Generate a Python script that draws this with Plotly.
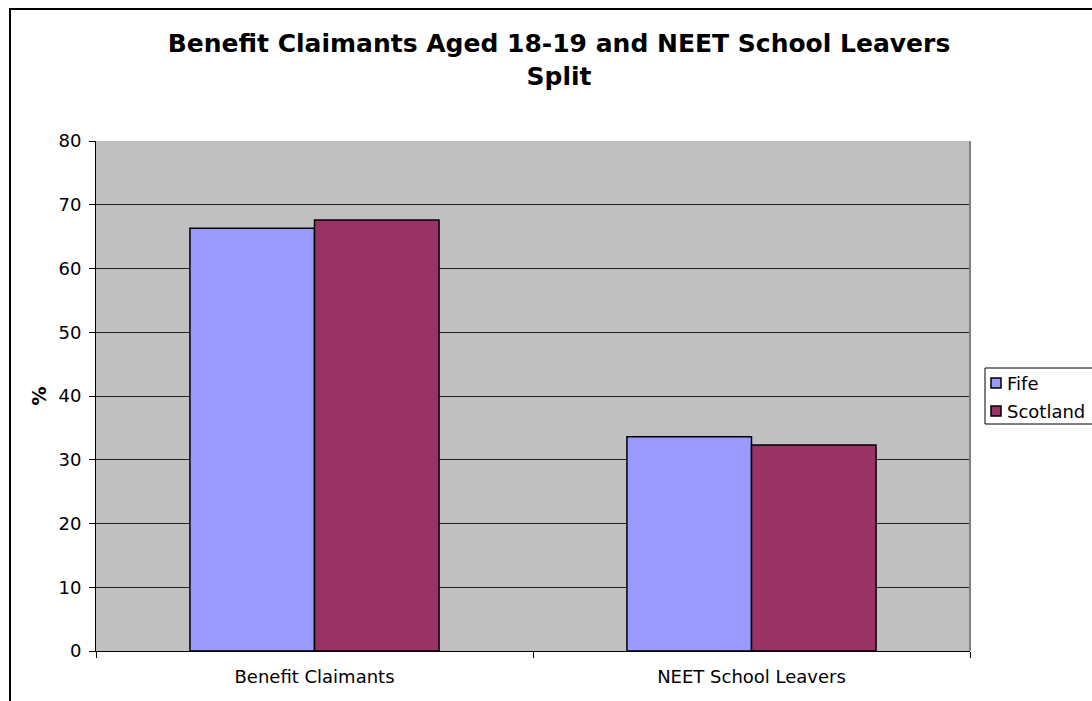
import plotly.graph_objects as go

# Chart data
categories = ["Benefit Claimants", "NEET School Leavers"]
series_names = ["Fife", "Scotland"]
fife_values = [66.3, 33.6]
scotland_values = [67.6, 32.3]
series_colors = ["#9999FF", "#993366"]
y_ticks = [0, 10, 20, 30, 40, 50, 60, 70, 80]

FONT = "DejaVu Sans, Verdana, sans-serif"

fig = go.Figure()
for name, vals, color in zip(series_names, [fife_values, scotland_values], series_colors):
    fig.add_trace(go.Bar(
        x=categories, y=vals, name=name,
        marker=dict(color=color, line=dict(color="black", width=1.5)),
        showlegend=False,
    ))

W, H = 1092, 701
L, R, T, B = 96, 122, 141, 50
pw, ph = W - L - R, H - T - B

def px_x(p):
    return (p - L) / pw

def px_y(p):
    return (H - B - p) / ph

shapes = []
annotations = []

# plot-area frame (grey on the right)
shapes.append(dict(type="line", xref="paper", yref="paper", x0=1, x1=1, y0=0, y1=1,
                   line=dict(color="#808080", width=2)))

# outer chart frame
shapes.append(dict(type="rect", xref="paper", yref="paper",
                   x0=px_x(10), x1=px_x(1100), y0=px_y(712), y1=px_y(9),
                   line=dict(color="#000000", width=2), fillcolor="rgba(0,0,0,0)"))

# legend box
shapes.append(dict(type="rect", xref="paper", yref="paper",
                   x0=px_x(985), x1=px_x(1100), y0=px_y(424), y1=px_y(368),
                   line=dict(color="#000000", width=1), fillcolor="white"))
for i, (name, color) in enumerate(zip(series_names, series_colors)):
    cy = 383 + i * 28
    shapes.append(dict(type="rect", xref="paper", yref="paper",
                       x0=px_x(991), x1=px_x(1001), y0=px_y(cy + 5), y1=px_y(cy - 5),
                       line=dict(color="#000000", width=1.5), fillcolor=color))
    annotations.append(dict(xref="paper", yref="paper", x=px_x(1005), y=px_y(cy),
                            text=name, showarrow=False, xanchor="left", yanchor="middle",
                            font=dict(family=FONT, size=18, color="black")))

fig.update_layout(
    width=W, height=H,
    margin=dict(l=L, r=R, t=T, b=B),
    paper_bgcolor="white",
    plot_bgcolor="#C0C0C0",
    barmode="group",
    bargap=0.43,
    bargroupgap=0,
    title=dict(
        text="<b>Benefit Claimants Aged 18-19 and NEET School Leavers<br>Split</b>",
        x=559 / W, xanchor="center", y=1 - 52 / H, yanchor="middle",
        font=dict(family=FONT, size=25, color="black"),
    ),
    font=dict(family=FONT, size=18, color="black"),
    shapes=shapes,
    annotations=annotations,
)

fig.update_xaxes(
    type="category",
    showline=True, linecolor="black", linewidth=1,
    ticks="outside", ticklen=6, tickcolor="black", tickson="boundaries",
    ticklabelstandoff=9,
    showgrid=False,
    tickfont=dict(family=FONT, size=18, color="black"),
)
fig.update_yaxes(
    range=[0, 80],
    tickvals=y_ticks,
    showline=True, linecolor="black", linewidth=1,
    ticks="outside", ticklen=6, tickcolor="black",
    ticklabelstandoff=4,
    showgrid=True, gridcolor="#222222", gridwidth=1,
    zeroline=False,
    tickfont=dict(family=FONT, size=18, color="black"),
    title=dict(text="<b>%</b>", font=dict(family=FONT, size=19, color="black"), standoff=6),
)

fig.write_html("out.html")
